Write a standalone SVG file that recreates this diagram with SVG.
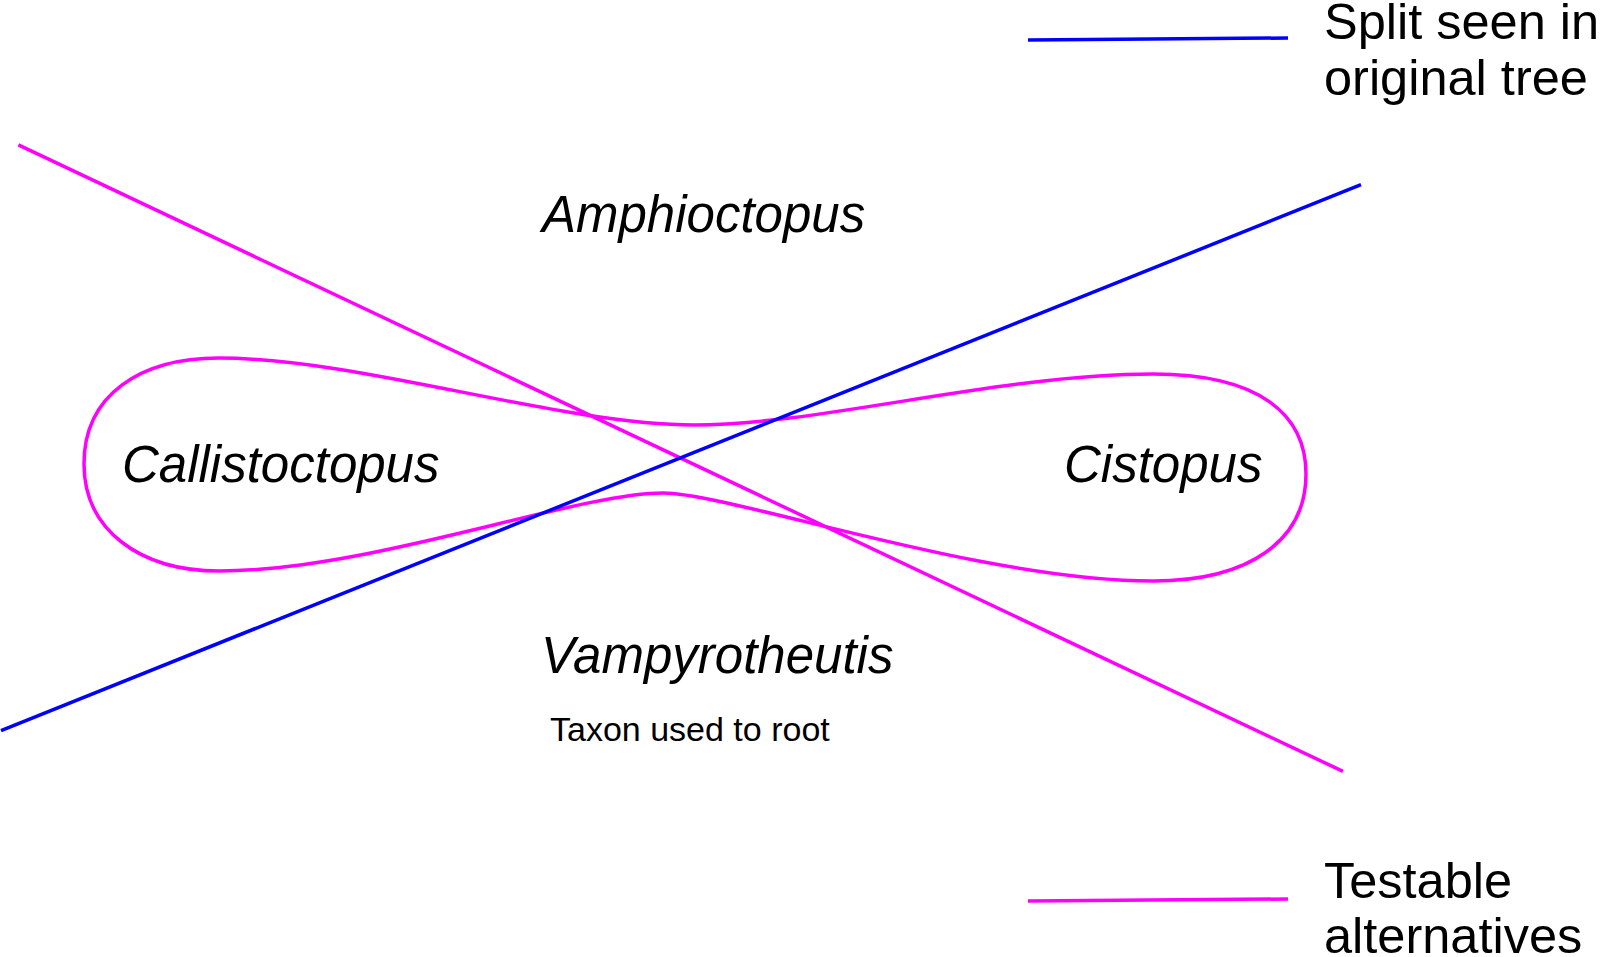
<svg xmlns="http://www.w3.org/2000/svg" width="1600" height="957" viewBox="0 0 1600 957">
<style>
.blue{stroke:#0000ff;stroke-width:3.5;fill:none}
.pink{stroke:#ff00ff;stroke-width:3.5;fill:none}
.lbl{font-family:"Liberation Sans",Arial,sans-serif;fill:#000}
.leg{font-family:"Liberation Sans",Arial,sans-serif;font-size:50.5px;fill:#000}
.tax{font-family:"Liberation Sans",Arial,sans-serif;font-style:italic;font-size:51px;fill:#000}
</style>
<rect width="1600" height="957" fill="#fff"/>
<g id="connectors">
<path class="pink" d="M84,464 C84,395 140,358 219,358 C360,358 560,425 694,425 C820,425 1000,374 1153,374 C1260,374 1306,415 1306,474 C1306,540 1250,581 1153,581 C980,581 730,493 663,493 C575,493 370,571 219,571 C140,571 84,530 84,464 Z"/>
<line class="pink" x1="18.4" y1="144.9" x2="1343" y2="771.4"/>
<line class="blue" x1="1" y1="730.6" x2="1361" y2="184.7"/>
</g>
<g id="amphioctopus"><text class="tax" x="542" y="232">Amphioctopus</text></g>
<g id="callistoctopus"><text class="tax" x="122" y="482">Callistoctopus</text></g>
<g id="cistopus"><text class="tax" x="1064" y="482">Cistopus</text></g>
<g id="vampyroteuthis"><text class="tax" x="541" y="673">Vampyrotheutis</text>
<text class="lbl" x="550" y="741" font-size="34">Taxon used to root</text></g>
<g id="legend-split">
<line class="blue" x1="1028" y1="40" x2="1288" y2="38"/>
<text class="leg" x="1324" y="39">Split seen in</text>
<text class="leg" x="1324" y="95">original tree</text>
</g>
<g id="legend-testable">
<line class="pink" x1="1028" y1="901" x2="1288" y2="899"/>
<text class="leg" x="1324" y="898">Testable</text>
<text class="leg" x="1324" y="953">alternatives</text>
</g>
</svg>
